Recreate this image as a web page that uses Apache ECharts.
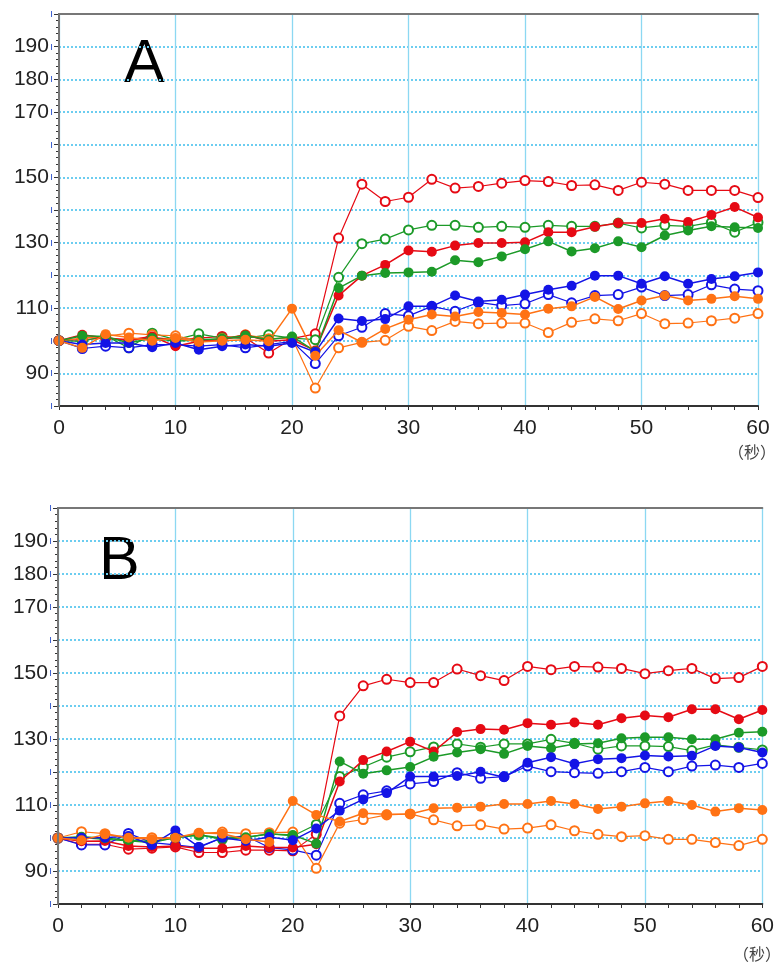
<!DOCTYPE html>
<html lang="zh">
<head>
    <meta charset="utf-8">
    <title>A / B</title>
    <script src="https://cdn.jsdelivr.net/npm/echarts@6/dist/echarts.min.js"></script>
    <style>
        html, body { margin: 0; padding: 0; background: #fff; }
        #chartMain { width: 777px; height: 962px; }
    </style>
</head>
<body>
<div id="chartMain"></div>
<script type="text/javascript">
    // 时间（秒）
    var secs = [0, 2, 4, 6, 8, 10, 12, 14, 16, 18, 20, 22, 24, 26, 28, 30, 32, 34, 36, 38, 40,
                42, 44, 46, 48, 50, 52, 54, 56, 58, 60];
    var yLabels = [90, 110, 130, 150, 170, 180, 190];

    // A
    var aRedOpen = [100, 100.3, 100.8, 100, 101, 100.3, 100.8, 101.3, 100.8, 96.2, 100.6,
        102.1, 131.4, 147.9, 142.6, 143.9, 149.4, 146.7, 147.2, 148.2, 149.0,
        148.7, 147.5, 147.7, 146.0, 148.5, 147.9, 146.0, 146.0, 146.0, 143.8];
    var aRedFill = [100, 101.8, 100.8, 100.3, 101.3, 98.3, 99.8, 100.3, 101.8, 99.8, 100.3,
        97, 113.8, 119.9, 123.2, 127.6, 127.2, 129.1, 129.9, 129.9, 130.1,
        133.2, 133.2, 134.9, 136.0, 136.0, 137.3, 136.3, 138.5, 140.9, 137.7];
    var aGreenOpen = [100, 99.8, 101.5, 97.8, 102.3, 100.3, 102.1, 100.8, 100.8, 101.8, 100.8,
        100.3, 119.4, 129.7, 131.1, 133.9, 135.3, 135.3, 134.7, 135.0, 134.7,
        135.3, 135.0, 135.0, 136.0, 134.5, 135.3, 135.0, 136.2, 133.2, 136.2];
    var aGreenFill = [100, 101.5, 101.3, 99.3, 100.8, 99.8, 100.3, 100.6, 101.6, 100.3, 101.3,
        96.7, 116.1, 119.9, 120.7, 120.9, 121.1, 124.6, 124.0, 125.8, 128.0,
        130.4, 127.3, 128.3, 130.4, 128.6, 132.2, 133.7, 135.0, 134.7, 134.5];
    var aBlueOpen = [100, 97.6, 98.3, 97.8, 98.8, 98.8, 98.3, 98.8, 97.8, 98.8, 99.8,
        93.0, 101.5, 104.1, 108.3, 107.6, 110.5, 109.0, 111.7, 110.7, 111.3,
        114.1, 111.6, 113.8, 114.1, 116.4, 113.8, 114.1, 117.1, 115.8, 115.3];
    var aBlueFill = [100, 98.8, 99.3, 99.3, 98, 99.3, 97.2, 98.3, 98.8, 98.3, 99.3,
        96.5, 106.8, 106.0, 106.6, 110.5, 110.5, 113.8, 112.0, 112.5, 114.1,
        115.6, 116.8, 119.9, 119.9, 117.4, 119.7, 117.4, 118.9, 119.7, 120.9];
    var aOrangeOpen = [100, 100.8, 101.3, 102.3, 101.8, 101.5, 100, 100.6, 101.8, 100.6, 100.8,
        85.5, 97.8, 99.5, 100.1, 104.4, 103.1, 105.9, 105.2, 105.4, 105.4,
        102.5, 105.6, 106.7, 106.1, 108.3, 105.2, 105.4, 106.1, 106.9, 108.3];
    var aOrangeFill = [100, 97.8, 102, 101, 100, 100.8, 99.6, 100, 100.3, 99.8, 109.8,
        95.4, 103.2, 99.5, 103.6, 106.4, 108.0, 107.4, 108.8, 108.5, 108.0,
        109.8, 110.5, 113.4, 109.7, 112.3, 113.8, 112.3, 112.8, 113.6, 112.8];

    // B
    var bRedOpen = [100, 98.1, 98.1, 96.6, 96.9, 97.3, 95.6, 95.6, 96.3, 96.3, 96.1,
        101.1, 137.0, 146.1, 148.1, 147.1, 147.1, 151.2, 149.2, 147.7, 152.0,
        151.0, 152.0, 151.8, 151.4, 149.8, 150.7, 151.4, 148.3, 148.6, 152.0];
    var bRedFill = [100, 99.0, 99.1, 97.6, 97.3, 97.6, 96.9, 96.9, 97.6, 97.1, 97.1,
        98.1, 117.1, 123.6, 126.2, 129.2, 126.2, 132.1, 133.0, 132.8, 134.8,
        134.3, 135.0, 134.3, 136.3, 137.1, 136.6, 139.0, 139.0, 136.0, 138.8];
    var bGreenOpen = [100, 100.1, 99.6, 99.1, 98.6, 100.1, 100.9, 99.6, 100.1, 101.3, 100.6,
        104.1, 118.6, 121.5, 124.5, 126.1, 127.6, 128.5, 127.5, 128.5, 128.5,
        129.9, 128.7, 126.9, 127.9, 127.9, 127.7, 126.5, 128.2, 127.5, 126.7];
    var bGreenFill = [100, 100.4, 99.9, 99.4, 98.9, 100.1, 101.0, 99.9, 100.2, 101.2, 100.9,
        98.3, 123.2, 119.5, 120.5, 121.5, 124.6, 125.9, 126.9, 125.5, 127.9,
        127.2, 128.5, 128.7, 130.2, 130.5, 130.5, 129.9, 129.9, 131.9, 132.2];
    var bBlueOpen = [100, 97.9, 97.9, 101.4, 98.6, 97.9, 97.1, 100.1, 100.6, 97.1, 96.4,
        94.8, 110.5, 113.1, 114.3, 116.4, 117.1, 119.8, 118.1, 118.6, 121.8,
        120.1, 119.8, 119.6, 120.1, 121.4, 120.1, 121.8, 122.1, 121.4, 122.6];
    var bBlueFill = [100, 100.1, 100.1, 100.6, 97.9, 102.3, 97.3, 100.1, 99.1, 100.3, 99.3,
        102.9, 108.3, 111.7, 113.6, 118.6, 118.6, 118.8, 120.1, 118.4, 122.8,
        124.5, 122.5, 123.9, 124.2, 125.0, 124.7, 124.9, 127.9, 127.4, 125.9];
    var bOrangeOpen = [100, 101.9, 101.3, 100.1, 100.1, 100.1, 101.3, 101.8, 101.3, 101.6, 101.8,
        90.8, 104.5, 105.6, 107.0, 107.3, 105.5, 103.7, 104.0, 102.7, 103.0,
        104.0, 102.2, 101.1, 100.4, 100.7, 99.6, 99.6, 98.6, 97.7, 99.6];
    var bOrangeFill = [100, 99.3, 101.1, 100.1, 99.6, 100.1, 101.6, 101.3, 99.6, 98.8, 111.2,
        107.0, 105.0, 107.5, 107.2, 107.3, 109.0, 109.2, 109.5, 110.3, 110.3,
        111.2, 110.3, 108.8, 109.5, 110.5, 111.2, 110.0, 108.0, 109.0, 108.5];

    var RED = '#e60a14', GREEN = '#1c9a28', BLUE = '#1414e6', ORANGE = '#ff7214';
    var FONT = 'Liberation Sans, Arial, sans-serif';

    function line(data, color, open, gi) {
        return {
            type: 'line',
            xAxisIndex: gi,
            yAxisIndex: gi,
            data: secs.map(function (t, i) { return [t, data[i]]; }),
            symbol: open ? 'emptyCircle' : 'circle',
            symbolSize: open ? 9 : 10,
            itemStyle: { color: color, borderWidth: open ? 1.3 : 0 },
            lineStyle: { color: color, width: open ? 1.2 : 1.5 },
            z: open ? 3 : 4
        };
    }

    function xAxisOf(gi) {
        return {
            type: 'value', gridIndex: gi, min: 0, max: 60, interval: 10,
            axisLine: { show: true, onZero: false, lineStyle: { color: '#333', width: 2 } },
            axisTick: { show: true, length: 4, lineStyle: { color: '#333' } },
            minorTick: { show: true, splitNumber: 5, length: 4, lineStyle: { color: '#333' } },
            axisLabel: { fontSize: 21, color: '#222', margin: 12, fontFamily: FONT },
            splitLine: { show: true, lineStyle: { color: '#8cd8f2', width: 1.3 } },
            z: 2
        };
    }

    function yAxisOf(gi) {
        return {
            type: 'value', gridIndex: gi, min: 80, max: 200, interval: 10,
            axisLine: { show: true, onZero: false, lineStyle: { color: '#333', width: 2 } },
            axisTick: { show: true, length: 5, lineStyle: { color: '#333' } },
            minorTick: { show: true, splitNumber: 5, length: 3, lineStyle: { color: '#333' } },
            axisLabel: {
                margin: 6, fontSize: 21, color: '#222', fontFamily: FONT,
                formatter: function (v) {
                    return yLabels.indexOf(v) >= 0 ? v + '{t|ı}' : '{t|ı}';
                },
                rich: { t: { color: '#3a5fd0', fontSize: 11, padding: [0, 0, 0, 1] } }
            },
            splitLine: { show: true, lineStyle: { type: 'dotted', color: '#6ccdf0', width: 2 } },
            z: 2
        };
    }

    // 上边和右边的灰色边框
    function frameX(gi) {
        return {
            type: 'value', gridIndex: gi, position: 'top', min: 0, max: 60,
            axisLine: { show: true, lineStyle: { color: '#777', width: 2 } },
            axisTick: { show: false }, axisLabel: { show: false }, splitLine: { show: false }, z: 6
        };
    }
    function frameY(gi) {
        return {
            type: 'value', gridIndex: gi, position: 'right', min: 80, max: 200,
            axisLine: { show: true, lineStyle: { color: '#777', width: 2 } },
            axisTick: { show: false }, axisLabel: { show: false }, splitLine: { show: false }, z: 6
        };
    }

    var chart = echarts.init(document.getElementById('chartMain'));
    chart.setOption({
        backgroundColor: '#fff',
        animation: false,
        grid: [
            { left: 59, top: 14, right: 19, height: 392 },
            { left: 58, top: 508, right: 14, height: 396 }
        ],
        xAxis: [xAxisOf(0), xAxisOf(1), frameX(0), frameX(1)],
        yAxis: [yAxisOf(0), yAxisOf(1), frameY(0), frameY(1)],
        graphic: [
            { type: 'text', left: 124, top: 35, style: { text: 'A', fontSize: 61, fontFamily: FONT, fill: '#000' } },
            { type: 'text', left: 99, top: 532, style: { text: 'B', fontSize: 61, fontFamily: FONT, fill: '#000' } },
            { type: 'text', left: 728, top: 444, style: { text: '（秒）', fontSize: 16, fontFamily: 'Noto Sans CJK JP', fill: '#444' } },
            { type: 'text', left: 733, top: 946, style: { text: '（秒）', fontSize: 16, fontFamily: 'Noto Sans CJK JP', fill: '#444' } }
        ],
        series: [
            line(aRedOpen, RED, true, 0),
            line(aGreenOpen, GREEN, true, 0),
            line(aBlueOpen, BLUE, true, 0),
            line(aOrangeOpen, ORANGE, true, 0),
            line(aRedFill, RED, false, 0),
            line(aGreenFill, GREEN, false, 0),
            line(aBlueFill, BLUE, false, 0),
            line(aOrangeFill, ORANGE, false, 0),
            line(bRedOpen, RED, true, 1),
            line(bGreenOpen, GREEN, true, 1),
            line(bBlueOpen, BLUE, true, 1),
            line(bOrangeOpen, ORANGE, true, 1),
            line(bRedFill, RED, false, 1),
            line(bGreenFill, GREEN, false, 1),
            line(bBlueFill, BLUE, false, 1),
            line(bOrangeFill, ORANGE, false, 1)
        ]
    });
</script>
</body>
</html>
